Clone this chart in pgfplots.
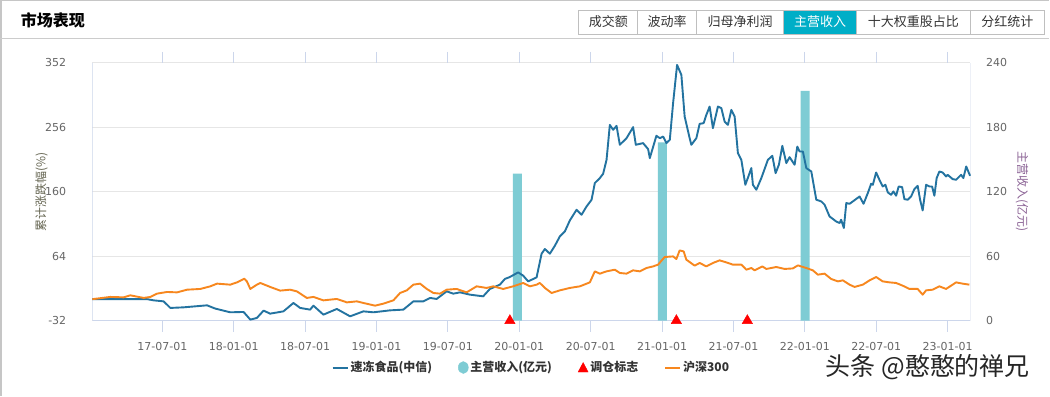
\documentclass[border=0pt]{standalone}
\usepackage{pgfplots}
\pgfplotsset{compat=1.18}
\usepackage{fontspec}
\setmainfont{DejaVu Sans}
\newfontfamily\cjk{Noto Sans CJK SC}
\definecolor{bluel}{RGB}{35,115,160}
\definecolor{orangel}{RGB}{247,135,30}
\definecolor{barc}{RGB}{126,204,212}
\definecolor{gridc}{RGB}{230,230,230}
\definecolor{axc}{RGB}{204,214,235}
\definecolor{tickc}{RGB}{102,102,102}
\definecolor{tabc}{RGB}{0,174,199}
\definecolor{ylc}{RGB}{100,100,80}
\definecolor{yrc}{RGB}{140,100,150}
\definecolor{txt}{RGB}{51,51,51}
\pgfplotsset{base/.style={scale only axis, width=879bp, height=258bp,
  at={(92bp,75bp)}, anchor=south west, xmin=0.010, xmax=6.159,
  axis line style={draw=none}}}
\begin{document}
\begin{tikzpicture}
\begin{scope}[x=1bp,y=1bp]
\fill[white] (0,0) rectangle (1050,396);
\draw[gray!45, line width=1.5bp] (0.75,0) -- (0.75,395.25) -- (1050,395.25);
\draw[gray!40, line width=1bp] (0,357) -- (1050,357);
\node[anchor=west, font=\cjk\bfseries\fontsize{16bp}{18bp}\selectfont, text=black] at (17,376) {市场表现};
\fill[tabc] (784,362) rectangle (857,386);
\draw[gray!50, line width=0.8bp] (579,362) rectangle (1045,386);
\foreach \x in {638,697,784,857,971} \draw[gray!50, line width=0.8bp] (\x,362) -- (\x,386);
\begin{scope}[every node/.style={font=\cjk\fontsize{13bp}{15bp}\selectfont, text=txt}]
\node at (608.5,374) {成交额};
\node at (667.5,374) {波动率};
\node at (740.5,374) {归母净利润};
\node[text=white] at (820.5,374) {主营收入};
\node at (914,374) {十大权重股占比};
\node at (1008,374) {分红统计};
\end{scope}
\node[font=\cjk\fontsize{25bp}{27bp}\selectfont, text=black!85] at (928.5,28) {头条 @憨憨的禅兄};
\end{scope}

% axis 1: grid, left ticks, x ticks
\begin{axis}[base, ymin=-32, ymax=352,
  ytick={-32,64,160,256,352},
  xtick={0.5,1,1.5,2,2.5,3,3.5,4,4.5,5,5.5,6},
  xticklabels={17-07-01,18-01-01,18-07-01,19-01-01,19-07-01,20-01-01,20-07-01,21-01-01,21-07-01,22-01-01,22-07-01,23-01-01},
  ymajorgrids, major grid style={gridc, line width=1bp},
  tick align=outside, major tick length=11bp,
  xtick style={draw=axc, line width=1bp}, ytick style={draw=none},
  /pgf/number format/assume math mode=true,
  xticklabel style={font=\fontsize{11bp}{13bp}\selectfont, text=tickc, inner sep=0pt, yshift=-11bp},
  yticklabel style={font=\fontsize{11bp}{13bp}\selectfont, text=tickc, inner sep=0pt, anchor=east, xshift=-15bp},
  every axis y label/.style={at={(axis description cs:0,0.5)}, xshift=-51bp, anchor=center, rotate=90},
  ylabel={累计涨跌幅(\%)},
  ylabel style={font=\cjk\fontsize{12bp}{14bp}\selectfont, text=ylc},
]
\draw[axc, line width=1bp] (rel axis cs:0,1) -- (rel axis cs:0,0) -- (rel axis cs:1,0) -- (rel axis cs:1,1);
\end{axis}

% axis 2: bars, right axis
\begin{axis}[base, ymin=0, ymax=240,
  ytick={0,60,120,180,240}, xtick=\empty, yticklabel pos=right,
  ytick style={draw=none},
  /pgf/number format/assume math mode=true,
  yticklabel style={font=\fontsize{11bp}{13bp}\selectfont, text=tickc, inner sep=0pt, anchor=west, xshift=15.7bp},
  every axis y label/.style={at={(axis description cs:1,0.5)}, xshift=51.7bp, anchor=center, rotate=-90},
  ylabel={主营收入(亿元)},
  ylabel style={font=\cjk\fontsize{12bp}{14bp}\selectfont, text=yrc},
]
\addplot[ybar, bar width=0.063, fill=barc, draw=none] coordinates {(2.987,137) (4.002,166) (5.001,214)};
\end{axis}

% axis 3: lines, markers, legend
\begin{axis}[base, ymin=-32, ymax=352, hide axis, clip=false,
  legend style={at={(axis description cs:0.5,-0.182)}, anchor=center, draw=none, fill=none,
    font=\cjk\bfseries\fontsize{12bp}{14bp}\selectfont, text=txt,
    /tikz/every even column/.append style={column sep=24bp}},
  legend columns=4,
]
\addplot[bluel, line width=1.9bp, line join=round, forget plot] coordinates {
(0.010,0) (0.393,0) (0.439,-1.8) (0.509,-3.3) (0.556,-13.1) (0.649,-12.2) (0.813,-9.2) (0.871,-14.1) (0.976,-19.6) (1.069,-19.1) (1.116,-30.5) (1.162,-28) (1.209,-17.1) (1.255,-21.6) (1.348,-18.2) (1.418,-5.7) (1.465,-13.1) (1.535,-15.6) (1.558,-9.7) (1.628,-23.1) (1.722,-14.6) (1.815,-25.6) (1.908,-18.2) (1.978,-19.6) (2.095,-16.7) (2.188,-15.6) (2.258,-3.3) (2.328,-3.3) (2.375,1.8) (2.421,0.3) (2.491,11.6) (2.538,8.2) (2.585,10.1) (2.654,6.7) (2.747,4.2) (2.794,15.2) (2.864,21.6) (2.899,30.1) (2.934,33) (2.992,39.9) (3.027,35) (3.062,26.5) (3.121,32.4) (3.156,67.7) (3.179,74.7) (3.214,67.7) (3.249,79.6) (3.284,93.5) (3.319,100.9) (3.354,117.3) (3.401,133.2) (3.436,125.8) (3.471,138.1) (3.506,148.1) (3.529,173) (3.564,180.4) (3.587,186.8) (3.611,207.6) (3.634,259.7) (3.657,252.3) (3.681,258.2) (3.704,230) (3.751,239.9) (3.797,256.3) (3.816,230) (3.867,232.5) (3.902,223.6) (3.914,210.2) (3.960,243.4) (3.984,239.9) (4.007,242.3) (4.030,232.5) (4.054,237.4) (4.077,292) (4.105,349) (4.135,334.1) (4.158,272.1) (4.193,239.9) (4.205,230) (4.240,239.9) (4.263,261.2) (4.291,262.3) (4.310,274.6) (4.333,287) (4.356,254.8) (4.391,287) (4.415,284.6) (4.438,264.6) (4.461,259.7) (4.485,282.1) (4.508,272.1) (4.531,217.6) (4.555,207.6) (4.583,170.4) (4.601,180.8) (4.625,195.3) (4.636,170.4) (4.660,163) (4.695,180.4) (4.741,207.6) (4.772,213.6) (4.795,187.8) (4.818,200.2) (4.842,228.5) (4.870,202.7) (4.893,211.6) (4.928,200.2) (4.947,227.4) (4.963,220) (4.986,220) (5.010,195.3) (5.045,190.2) (5.080,148.1) (5.115,145.6) (5.138,140.7) (5.173,123.2) (5.219,115.8) (5.243,113.4) (5.254,118.3) (5.273,106) (5.290,143.2) (5.313,142.1) (5.336,145.6) (5.383,153) (5.411,142.1) (5.441,158.1) (5.464,171.9) (5.476,170.4) (5.499,188.7) (5.522,177.9) (5.545,167.9) (5.564,170.4) (5.581,159) (5.604,155.5) (5.620,160.5) (5.639,154.1) (5.657,167.9) (5.681,167) (5.697,149.1) (5.720,148.1) (5.744,153) (5.767,164) (5.790,168.9) (5.807,148.1) (5.825,132.2) (5.849,170.4) (5.872,167.9) (5.891,167.9) (5.907,154.1) (5.923,180.4) (5.942,190.2) (5.965,188.7) (5.989,182.8) (6.000,185.3) (6.035,178.9) (6.059,177.9) (6.094,185.3) (6.110,180.4) (6.130,197.7) (6.157,183.8)
};
\addplot[orangel, line width=1.9bp, line join=round, forget plot] coordinates {
(0.010,0) (0.136,3.3) (0.229,2.7) (0.276,5.7) (0.369,1.8) (0.416,3.3) (0.463,8.2) (0.533,10.7) (0.603,10.1) (0.673,14.1) (0.766,15.2) (0.836,19.1) (0.883,23.1) (0.976,21.6) (1.023,25) (1.074,30.5) (1.092,26.5) (1.116,15.2) (1.162,21.6) (1.186,24.1) (1.255,18.2) (1.325,12.7) (1.395,14.1) (1.442,11.6) (1.512,1.8) (1.558,3.3) (1.628,-1.8) (1.722,0.3) (1.792,-4.8) (1.862,-3.3) (1.908,-5.7) (1.990,-9.7) (2.048,-6.7) (2.118,-1.8) (2.165,9.2) (2.212,13.1) (2.258,21.6) (2.305,23.1) (2.352,15.2) (2.398,9.2) (2.445,8.2) (2.491,14.1) (2.561,15.2) (2.631,10.1) (2.701,19.1) (2.771,16.7) (2.817,19.1) (2.887,15.2) (2.957,19.1) (3.027,24.1) (3.074,19.1) (3.121,21.6) (3.144,24.1) (3.179,16.7) (3.226,9.2) (3.284,13.1) (3.354,16.7) (3.424,19.1) (3.494,25) (3.529,41.4) (3.564,38) (3.611,41.4) (3.669,43.9) (3.704,39) (3.751,38) (3.797,42.9) (3.844,41.4) (3.890,46.4) (3.937,48.8) (3.972,51.4) (4.018,62.8) (4.077,63.7) (4.100,59.8) (4.123,72.6) (4.151,71.1) (4.170,58.8) (4.228,49.9) (4.263,53.9) (4.310,48.8) (4.356,53.9) (4.403,57.8) (4.450,54.8) (4.496,51.4) (4.555,51.4) (4.590,43.9) (4.625,46.4) (4.648,42.9) (4.702,48.8) (4.730,45) (4.800,47.9) (4.858,45) (4.916,45.8) (4.951,50.3) (5.010,46.4) (5.056,42.9) (5.091,36.5) (5.138,38) (5.184,30.1) (5.231,26.5) (5.266,28) (5.313,21.6) (5.348,18.2) (5.406,21.6) (5.453,28) (5.499,33) (5.545,26.5) (5.592,25) (5.639,24.1) (5.685,20.1) (5.732,15.2) (5.790,15.2) (5.825,6.7) (5.849,13.1) (5.895,14.1) (5.942,19.1) (5.989,15.2) (6.059,25) (6.105,23.1) (6.152,21.6)
};
\addplot[only marks, mark=triangle*, mark size=6bp, red, forget plot] coordinates {(2.934,-32) (4.100,-32) (4.597,-32)};
\addlegendimage{legend image code/.code={\draw[bluel, line width=2bp] (0bp,0bp) -- (15bp,0bp);}}
\addlegendentry{速冻食品(中信)}
\addlegendimage{legend image code/.code={\fill[barc] (7bp,0bp) ellipse (5bp and 6bp);}}
\addlegendentry{主营收入(亿元)}
\addlegendimage{legend image code/.code={\fill[red] (2bp,-4.5bp) -- (12bp,-4.5bp) -- (7bp,5bp) -- cycle;}}
\addlegendentry{调仓标志}
\addlegendimage{legend image code/.code={\draw[orangel, line width=2bp] (0bp,0bp) -- (15bp,0bp);}}
\addlegendentry{沪深300}
\end{axis}
\end{tikzpicture}
\end{document}
